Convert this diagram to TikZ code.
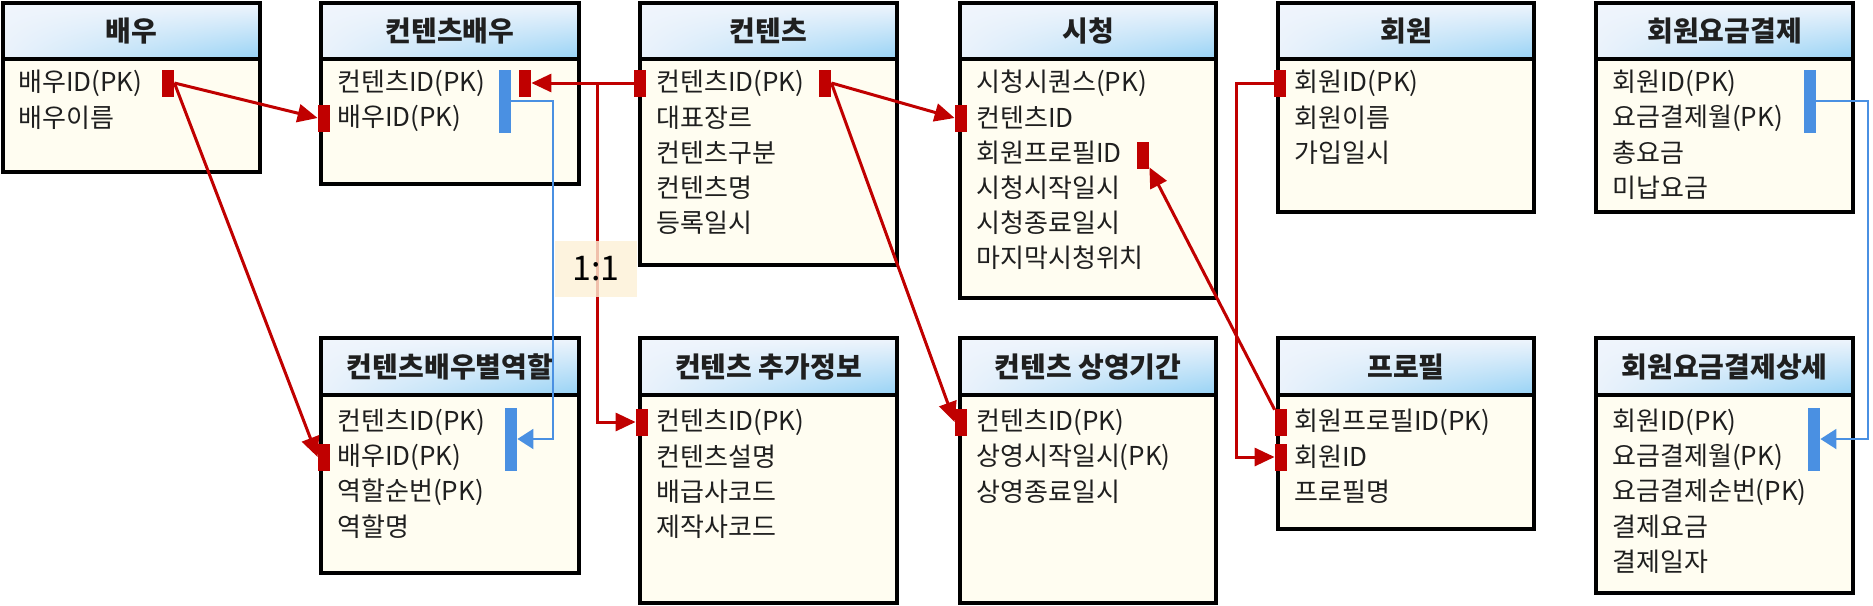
\documentclass[tikz,border=0pt]{standalone}
\usepackage{fontspec}
\setmainfont{Noto Sans CJK KR}
\usetikzlibrary{arrows.meta,shadings}
\definecolor{pkred}{RGB}{192,0,0}
\definecolor{fkblue}{RGB}{74,144,226}
\definecolor{bodycream}{RGB}{255,253,241}
\definecolor{hdrtop}{RGB}{240,245,252}
\definecolor{hdrpale}{RGB}{234,242,251}
\definecolor{hdrblue}{RGB}{150,210,245}
\definecolor{notepeach}{RGB}{252,240,214}

\tikzset{
  tbody/.style={fill=bodycream, draw=black, line width=1.6pt},
  thead/.style={upper left=hdrtop, upper right=hdrtop, lower left=hdrpale, lower right=hdrblue, draw=black, line width=1.6pt},
  ttl/.style={font=\fontsize{14pt}{16pt}\selectfont\bfseries, text=black!88, inner sep=0pt},
  fld/.style={anchor=west, font=\fontsize{13pt}{15pt}\selectfont, text=black!88, inner sep=0pt},
  pkmark/.style={fill=pkred, minimum width=6pt, minimum height=13.5pt, inner sep=0pt},
  fkbar/.style={fill=fkblue, minimum width=6pt, minimum height=31.5pt, inner sep=0pt},
  relline/.style={pkred, line width=1.5pt, -{Triangle[length=10pt,width=9pt]}},
  fkline/.style={fkblue, line width=1pt, -{Triangle[length=8pt,width=10pt]}},
  ratio/.style={fill=notepeach, fill opacity=0.8, text opacity=1, minimum width=41pt, minimum height=28pt, inner sep=0pt, font=\fontsize{17pt}{19pt}\selectfont}
}

\begin{document}
\begin{tikzpicture}[x=0.5pt, y=-0.5pt]
\useasboundingbox (0,0) rectangle (1873,605);

% tables, top row
\path[tbody] (3,59) rectangle (260,172);
\shadedraw[thead] (3,3) rectangle (260,59);
\node[ttl] (actor) at (131.5,31) {배우};
\node[fld] (actor-1) at (18,83) {배우ID(PK)};
\node[fld] (actor-2) at (18,118) {배우이름};

\path[tbody] (321,59) rectangle (579,184);
\shadedraw[thead] (321,3) rectangle (579,59);
\node[ttl] (cact) at (450,31) {컨텐츠배우};
\node[fld] (cact-1) at (337,83) {컨텐츠ID(PK)};
\node[fld] (cact-2) at (337,118) {배우ID(PK)};

\path[tbody] (640,59) rectangle (897,265);
\shadedraw[thead] (640,3) rectangle (897,59);
\node[ttl] (cnt) at (768.5,31) {컨텐츠};
\node[fld] (cnt-1) at (656,83) {컨텐츠ID(PK)};
\node[fld] (cnt-2) at (656,118) {대표장르};
\node[fld] (cnt-3) at (656,153) {컨텐츠구분};
\node[fld] (cnt-4) at (656,188) {컨텐츠명};
\node[fld] (cnt-5) at (656,223) {등록일시};

\path[tbody] (960,59) rectangle (1216,298);
\shadedraw[thead] (960,3) rectangle (1216,59);
\node[ttl] (view) at (1088,31) {시청};
\node[fld] (view-1) at (976,83) {시청시퀀스(PK)};
\node[fld] (view-2) at (976,118) {컨텐츠ID};
\node[fld] (view-3) at (976,153) {회원프로필ID};
\node[fld] (view-4) at (976,188) {시청시작일시};
\node[fld] (view-5) at (976,223) {시청종료일시};
\node[fld] (view-6) at (976,258) {마지막시청위치};

\path[tbody] (1278,59) rectangle (1534,212);
\shadedraw[thead] (1278,3) rectangle (1534,59);
\node[ttl] (mem) at (1406,31) {회원};
\node[fld] (mem-1) at (1294,83) {회원ID(PK)};
\node[fld] (mem-2) at (1294,118) {회원이름};
\node[fld] (mem-3) at (1294,153) {가입일시};

\path[tbody] (1596,59) rectangle (1853,212);
\shadedraw[thead] (1596,3) rectangle (1853,59);
\node[ttl] (pay) at (1724.5,31) {회원요금결제};
\node[fld] (pay-1) at (1612,83) {회원ID(PK)};
\node[fld] (pay-2) at (1612,118) {요금결제월(PK)};
\node[fld] (pay-3) at (1612,153) {총요금};
\node[fld] (pay-4) at (1612,188) {미납요금};

% tables, bottom row
\path[tbody] (321,395) rectangle (579,573);
\shadedraw[thead] (321,338) rectangle (579,395);
\node[ttl] (role) at (450,367) {컨텐츠배우별역할};
\node[fld] (role-1) at (337,422) {컨텐츠ID(PK)};
\node[fld] (role-2) at (337,457) {배우ID(PK)};
\node[fld] (role-3) at (337,492) {역할순번(PK)};
\node[fld] (role-4) at (337,527) {역할명};

\path[tbody] (640,395) rectangle (897,603);
\shadedraw[thead] (640,338) rectangle (897,395);
\node[ttl] (cinfo) at (768.5,367) {컨텐츠 추가정보};
\node[fld] (cinfo-1) at (656,422) {컨텐츠ID(PK)};
\node[fld] (cinfo-2) at (656,457) {컨텐츠설명};
\node[fld] (cinfo-3) at (656,492) {배급사코드};
\node[fld] (cinfo-4) at (656,527) {제작사코드};

\path[tbody] (960,395) rectangle (1216,603);
\shadedraw[thead] (960,338) rectangle (1216,395);
\node[ttl] (cper) at (1088,367) {컨텐츠 상영기간};
\node[fld] (cper-1) at (976,422) {컨텐츠ID(PK)};
\node[fld] (cper-2) at (976,457) {상영시작일시(PK)};
\node[fld] (cper-3) at (976,492) {상영종료일시};

\path[tbody] (1278,395) rectangle (1534,529);
\shadedraw[thead] (1278,338) rectangle (1534,395);
\node[ttl] (prof) at (1406,367) {프로필};
\node[fld] (prof-1) at (1294,422) {회원프로필ID(PK)};
\node[fld] (prof-2) at (1294,457) {회원ID};
\node[fld] (prof-3) at (1294,492) {프로필명};

\path[tbody] (1596,395) rectangle (1853,593);
\shadedraw[thead] (1596,338) rectangle (1853,395);
\node[ttl] (payd) at (1724.5,367) {회원요금결제상세};
\node[fld] (payd-1) at (1612,422) {회원ID(PK)};
\node[fld] (payd-2) at (1612,457) {요금결제월(PK)};
\node[fld] (payd-3) at (1612,492) {요금결제순번(PK)};
\node[fld] (payd-4) at (1612,527) {결제요금};
\node[fld] (payd-5) at (1612,562) {결제일자};

% key markers
\node[pkmark] (actorM) at (168,83) {};
\node[pkmark] (cactL) at (324,118) {};
\node[pkmark] (cactR) at (525,83) {};
\node[fkbar] (cactB) at (505,101) {};
\node[pkmark] (cntL) at (640,83) {};
\node[pkmark] (cntR) at (825,83) {};
\node[pkmark] (viewL) at (961,118) {};
\node[pkmark] (viewP) at (1143,155) {};
\node[pkmark] (memL) at (1280,83) {};
\node[fkbar] (payB) at (1810,101) {};
\node[pkmark] (roleL) at (324,457) {};
\node[fkbar] (roleB) at (511,439) {};
\node[pkmark] (cinfoL) at (642,422) {};
\node[pkmark] (cperL) at (961,422) {};
\node[pkmark] (profL1) at (1281,422) {};
\node[pkmark] (profL2) at (1281,457) {};
\node[fkbar] (paydB) at (1814,439) {};
\coordinate (cjoin) at (597,83);

% relations
\draw[relline] (actorM.east) -- (cactL.west);
\draw[relline] (actorM.east) -- (roleL.west);
\draw[relline] (cntL.west) -- (cactR.east);
\draw[relline] (cjoin) |- (cinfoL.west);
\draw[relline] (cntR.east) -- (viewL.west);
\draw[relline] (cntR.east) -- (cperL.west);
\draw[relline] (memL.west) -- ++(-37,0) |- (profL2.west);
\draw[relline] (profL1) -- (viewP);

\node[ratio] (one2one) at (596,269) {1:1};

\draw[fkline] (cactB.east) -- ++(42,0) |- (roleB.east);
\draw[fkline] (payB.east) -- ++(52,0) |- (paydB.east);

\end{tikzpicture}
\end{document}
